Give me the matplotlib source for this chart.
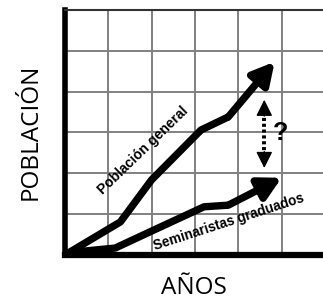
import matplotlib.pyplot as plt

# grid cells along each axis
n_cols = 6
n_rows = 6

# general population line (x in years-cells, y in population-cells)
gen_x = [0.0, 1.28, 2.0, 3.14, 3.77, 4.84]
gen_y = [0.0, 0.81, 1.84, 3.06, 3.38, 4.73]

# graduated seminarians line
sem_x = [0.0, 1.16, 2.05, 3.21, 3.77, 5.0]
sem_y = [0.05, 0.17, 0.61, 1.18, 1.22, 1.89]

# dotted gap arrow
gap_x = 4.6
gap_y = [2.13, 3.8]

fig = plt.figure(figsize=(3.23, 3.0), dpi=100)
ax = fig.add_axes([0.201, 0.15, 0.805, 0.817])
ax.set_xlim(0, n_cols)
ax.set_ylim(0, n_rows)
ax.set_xticks(range(n_cols + 1))
ax.set_yticks(range(n_rows + 1))
ax.tick_params(length=0, labelbottom=False, labelleft=False)
ax.grid(True, color="#808080", lw=1.4)
ax.set_axisbelow(True)

ax.spines["left"].set_linewidth(4.0)
ax.spines["bottom"].set_linewidth(4.5)
ax.spines["top"].set_linewidth(1.5)
ax.spines["top"].set_color("#333333")
ax.spines["right"].set_visible(False)
for s in ("left", "bottom"):
    ax.spines[s].set_color("black")

lw = 5.3
for xs, ys in [(gen_x, gen_y), (sem_x, sem_y)]:
    ax.plot(xs[:-1], ys[:-1], color="black", lw=lw, solid_joinstyle="round",
            solid_capstyle="butt", clip_on=False)
    ax.annotate("", xy=(xs[-1], ys[-1]), xytext=(xs[-2], ys[-2]),
                arrowprops=dict(arrowstyle="-|>,head_length=1.3,head_width=0.7",
                                color="black", lw=lw, shrinkA=0, shrinkB=0))

# dotted shaft plus two heads
ax.plot([gap_x, gap_x], [gap_y[0] + 0.3, gap_y[1] - 0.3], color="black",
        lw=2.8, ls=(0, (0.8, 0.7)))
for tip, base in [(gap_y[0], gap_y[0] + 0.4), (gap_y[1], gap_y[1] - 0.4)]:
    ax.annotate("", xy=(gap_x, tip), xytext=(gap_x, base),
                arrowprops=dict(arrowstyle="-|>,head_length=1.0,head_width=0.5",
                                color="black", lw=1, shrinkA=0, shrinkB=0))
ax.text(4.97, 2.98, "?", fontsize=18, fontweight="bold", ha="center",
        va="center", family="Liberation Sans")

ax.text(1.8, 2.57, "Población general", rotation=44, fontsize=10,
        fontweight="bold", ha="center", va="center", family="Liberation Sans",
        rotation_mode="anchor")
ax.text(3.77, 0.81, "Seminaristas graduados", rotation=18, fontsize=9.8,
        fontweight="bold", ha="center", va="center", family="Liberation Sans",
        rotation_mode="anchor")

fig.text(0.095, 0.56, "POBLACIÓN", rotation=90, fontsize=17.5,
         family="Open Sans", ha="center", va="center")
fig.text(0.6, 0.04, "AÑOS", fontsize=17.5, family="Open Sans",
         ha="center", va="center")

fig.savefig("out.png", dpi=100)
